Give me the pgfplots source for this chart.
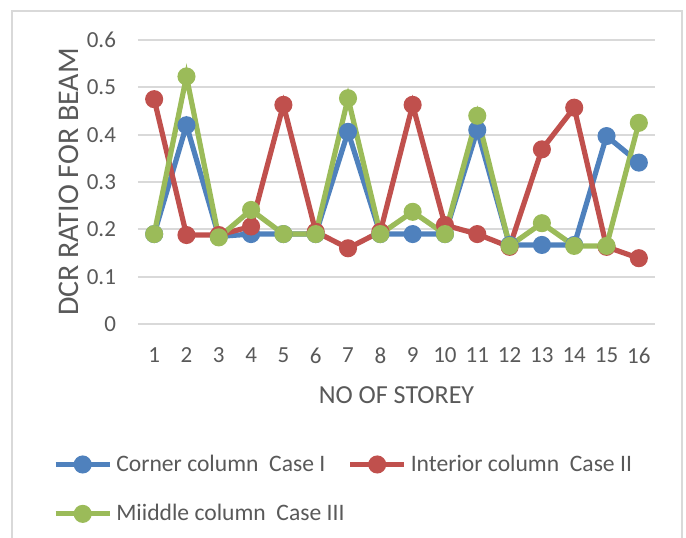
\documentclass[border=0pt]{standalone}
\usepackage{pgfplots}
\pgfplotsset{compat=1.18}
\usepackage{fontspec}
\setmainfont{Carlito}
\definecolor{cblue}{HTML}{4F81BD}
\definecolor{cred}{HTML}{C0504D}
\definecolor{cgreen}{HTML}{9BBB59}
\definecolor{txt}{HTML}{595959}
\definecolor{grd}{HTML}{D9D9D9}
\begin{document}
\begin{tikzpicture}[x=1pt,y=1pt]
\begin{axis}[
  at={(69pt,106.5pt)}, anchor=south west,
  scale only axis, width=258.5pt, height=142pt,
  xmin=0.5, xmax=16.5, ymin=0, ymax=0.6,
  xtick={1,...,16}, ytick={0,0.1,...,0.6},
  yticklabels={0,0.1,0.2,0.3,0.4,0.5,0.6},
  axis line style={draw=none},
  major tick length=0pt,
  ymajorgrids, grid style={grd, line width=0.9pt},
  font=\fontsize{11.5}{13}\selectfont,
  /pgf/number format/assume math mode=true,
  tick label style={txt},
  yticklabel style={xshift=-7.5pt},
  xticklabel style={yshift=-8.5pt},
  xlabel={NO OF STOREY}, ylabel={DCR RATIO FOR BEAM},
  label style={txt},
  xlabel style={yshift=-4.5pt, font=\fontsize{13}{15}\selectfont},
  ylabel style={yshift=-2.7pt, font=\fontsize{15}{17}\selectfont},
  every axis plot/.append style={line width=2.6pt, mark=*, mark size=3.2pt},
  legend columns=2,
  legend style={draw=none, fill=none, at={(-0.165,-0.445)}, anchor=north west,
    font=\fontsize{11.8}{13.5}\selectfont, text=txt, row sep=11pt,
    /tikz/every even column/.append style={column sep=-0.5pt},
    inner sep=0pt},
  legend cell align=left,
  legend image code/.code={
    \draw[mark repeat=2,mark phase=2,#1] plot coordinates {(0pt,0pt)(13.5pt,0pt)(27pt,0pt)};},
]
\addplot[color=cblue] coordinates {
(1,0.19)(2,0.42)(3,0.185)(4,0.19)(5,0.19)(6,0.19)(7,0.406)(8,0.19)
(9,0.19)(10,0.19)(11,0.41)(12,0.167)(13,0.167)(14,0.167)(15,0.397)(16,0.341)};
\addlegendentry{Corner column\ \ Case I}
\addplot[color=cred] coordinates {
(1,0.475)(2,0.188)(3,0.188)(4,0.206)(5,0.463)(6,0.195)(7,0.16)(8,0.195)
(9,0.463)(10,0.209)(11,0.19)(12,0.163)(13,0.369)(14,0.457)(15,0.163)(16,0.139)};
\addlegendentry{Interior column\ \ Case II}
\addplot[color=cgreen] coordinates {
(1,0.19)(2,0.523)(3,0.183)(4,0.241)(5,0.19)(6,0.19)(7,0.477)(8,0.19)
(9,0.237)(10,0.19)(11,0.44)(12,0.165)(13,0.213)(14,0.165)(15,0.165)(16,0.425)};
\addlegendentry{Miiddle column\ \ Case III}
\end{axis}
\draw[grd, line width=0.8pt] (6pt,-10pt) rectangle (341pt,263pt);
\pgfresetboundingbox
\path[use as bounding box] (0,0) rectangle (343pt,268.5pt);
\end{tikzpicture}
\end{document}
